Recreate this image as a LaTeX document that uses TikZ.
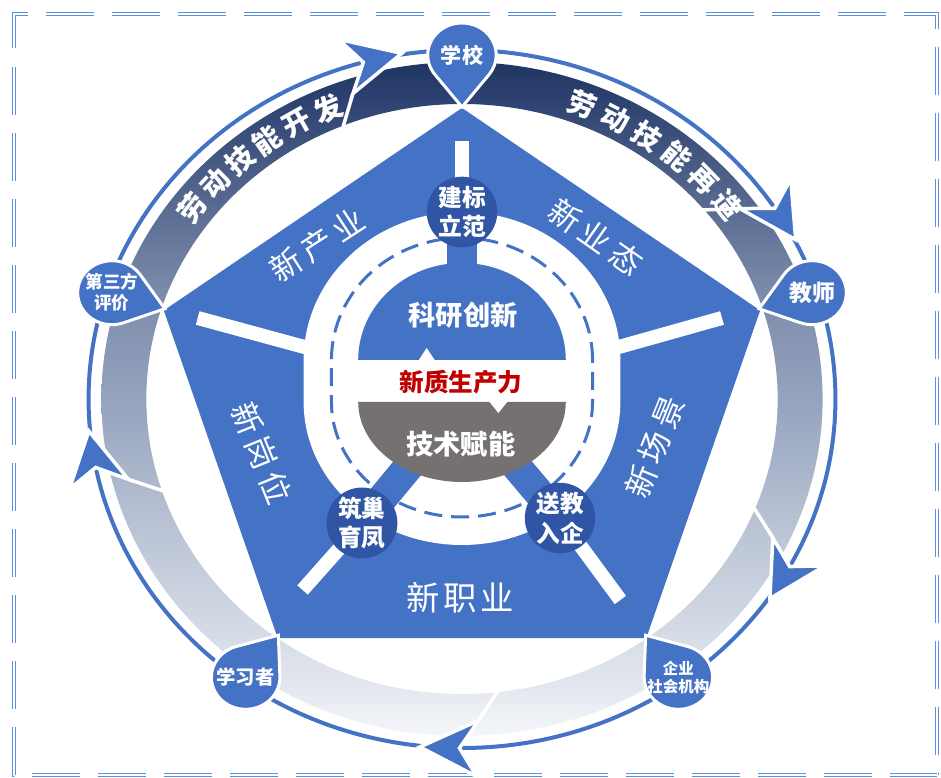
\documentclass[tikz,border=0pt]{standalone}
\usepackage{fontspec}
\setmainfont{Noto Sans CJK SC}

\definecolor{penblue}{HTML}{4472C4}
\definecolor{hubblue}{HTML}{2F55A4}
\definecolor{coregray}{HTML}{767171}
\definecolor{corered}{HTML}{C00000}
\definecolor{framecol}{HTML}{5B8EDC}
\definecolor{bandA}{HTML}{1F3562}
\definecolor{bandB}{HTML}{2E4371}
\definecolor{bandC}{HTML}{5A6C92}
\definecolor{bandD}{HTML}{7B8BAA}
\definecolor{bandE}{HTML}{95A3BE}
\definecolor{bandF}{HTML}{BFC8D8}
\definecolor{bandG}{HTML}{E2E6EE}
\definecolor{bandH}{HTML}{F4F6F9}

\pgfdeclareverticalshading{bandshade}{100bp}{color(0bp)=(bandH); color(25bp)=(bandH); color(29bp)=(bandG); color(39bp)=(bandF); color(50bp)=(bandE); color(58bp)=(bandD); color(64bp)=(bandC); color(72bp)=(bandB); color(75bp)=(bandA); color(100bp)=(bandA)}

\newcommand\droppin[1]{%
  \begin{scope}[shift={(#1:344)}, rotate=#1]
    \filldraw[drop] (-52,0) -- (128:32) arc[start angle=128, end angle=-128, radius=32] -- cycle;
  \end{scope}}

\begin{document}
\begin{tikzpicture}[x=0.2mm, y=0.2mm,
    dashframe/.style={draw=framecol, double=white, line width=0.8pt, double distance=1.2pt, dash pattern=on 9.6mm off 3.6mm},
    drop/.style={fill=penblue, draw=white, line width=0.6mm},
    droptxt/.style={text=white, align=center, inner sep=0pt, font=\bfseries\fontsize{12}{14}\selectfont},
    ringarrow/.style={fill=penblue, draw=white, line width=0.7mm},
    bandtxt/.style={text=white, inner sep=0pt, font=\bfseries\fontsize{16}{16}\selectfont},
    facet/.style={text=white, inner sep=0pt, font=\fontsize{18}{18}\selectfont},
    spoke/.style={white, line width=2.8mm},
    link/.style={penblue, line width=6mm},
    hub/.style={circle, fill=hubblue, text=white, minimum size=13.6mm, inner sep=0pt, align=center, font=\bfseries\fontsize{13.5}{17}\selectfont},
    core/.style={text=white, inner sep=0pt, font=\bfseries\fontsize{15.5}{15.5}\selectfont}]
  \useasboundingbox (-462,-379) rectangle (479,399);

  \draw[dashframe] (-448,351) -- (-448,385) -- (475,385) -- (475,-376);
  \draw[dashframe] (-448,332) -- (-448,-376) -- (475,-376);

  \begin{scope}[xscale=1.07]
    \draw[penblue, line width=0.8mm] (0,0) circle (349);
    \shade[shading=bandshade, even odd rule] (0,0) circle (337) (0,0) circle (295);
    \foreach \a in {104,31.8,-30,-91.7,190}{
      \begin{scope}[shift={(\a:349)}, rotate=\a-90]
        \draw[white, line width=0.7mm] (-25,-28) -- (-42,-58);
        \filldraw[ringarrow] (29,0) -- (-25,28) -- (-8,0) -- (-25,-28) -- cycle;
      \end{scope}}

    \fill[penblue, shift={(0,-2)}] (90:293) -- (18:293) -- (-54:293) -- (-126:293) -- (162:293) -- cycle;
    \draw[spoke] (0,258) -- (0,187);
    \draw[spoke] (-247,81) -- (-130,47);
    \draw[spoke] (243,81) -- (130,47);
    \draw[spoke] (-149,-191) -- (-93.5,-124);
    \draw[spoke] (148,-201) -- (91.6,-119);

    \fill[white] (148,39) arc[start angle=0, end angle=180, radius=148] -- (-148,-3) arc[start angle=180, end angle=360, x radius=148, y radius=143] -- cycle;
    \draw[penblue, line width=0.6mm, dash pattern=on 3.6mm off 1.8mm] (122,39) arc[start angle=0, end angle=180, radius=122] -- (-122,-3) arc[start angle=180, end angle=360, x radius=122, y radius=115] -- cycle;
    \draw[link] (0,187) -- (0,100);
    \draw[link] (-93.5,-124) -- (-39.7,-54.4);
    \draw[link] (91.6,-119) -- (40.3,-54);
    \fill[penblue] (97,39) arc[start angle=0, end angle=180, radius=97] -- cycle;
    \fill[white] (-41,38) -- (-33,51) -- (-25,38) -- cycle;
    \fill[coregray] (97,-3) arc[start angle=0, end angle=-180, x radius=97, y radius=80] -- cycle;
    \fill[white] (25,-2) -- (34,-14) -- (43,-2) -- cycle;

    \droppin{90}
    \droppin{18}
    \droppin{-54}
    \droppin{-126}
    \droppin{162}

    \node[droptxt] (school) at (90:344) {学校};
    \node[droptxt, font=\bfseries\fontsize{13}{15}\selectfont] (teacher) at (18:344) {教师};
    \node[droptxt, font=\bfseries\fontsize{8.8}{10.3}\selectfont] (firm) at (-54:344) {企业\\社会机构};
    \node[droptxt, font=\bfseries\fontsize{11}{13}\selectfont] (learner) at (-126:344) {学习者};
    \node[droptxt, font=\bfseries\fontsize{10}{12}\selectfont] (review) at (162:344) {第三方\\评价};

    \foreach \c [count=\i] in {劳,动,技,能,开,发}
      \node[bandtxt, rotate={52.8-5.88*(\i-1)}] at ({142.8-5.88*(\i-1)}:316) {\c};
    \foreach \c [count=\i] in {劳,动,技,能,再,造}
      \node[bandtxt, rotate={-20.9-6.24*(\i-1)}] at ({69.1-6.24*(\i-1)}:315) {\c};

    \node[facet, rotate=33] (industry) at (-135.5,154) {新\hspace{3pt}产\hspace{3pt}业};
    \node[facet, rotate=-35] (format) at (125,162) {新\hspace{3pt}业\hspace{3pt}态};
    \node[facet, rotate=68] (scene) at (180,-48) {新\hspace{3pt}场\hspace{3pt}景};
    \node[facet, rotate=-68] (post) at (-187,-54) {新\hspace{3pt}岗\hspace{3pt}位};
    \node[facet, font=\fontsize{19}{19}\selectfont] (career) at (-2,-199) {新\hspace{2pt}职\hspace{2pt}业};

    \node[hub] (norm) at (0,187) {建标\\立范};
    \node[hub] (nest) at (-93.5,-124) {筑巢\\育凤};
    \node[hub] (send) at (91.6,-119) {送教\\入企};

    \node[core] (research) at (1,84) {科研创新};
    \node[core, text=corered, font=\bfseries\fontsize{14}{14}\selectfont] (power) at (-1,17) {新质生产力};
    \node[core] (tech) at (-1,-45) {技术赋能};
  \end{scope}
\end{tikzpicture}
\end{document}
